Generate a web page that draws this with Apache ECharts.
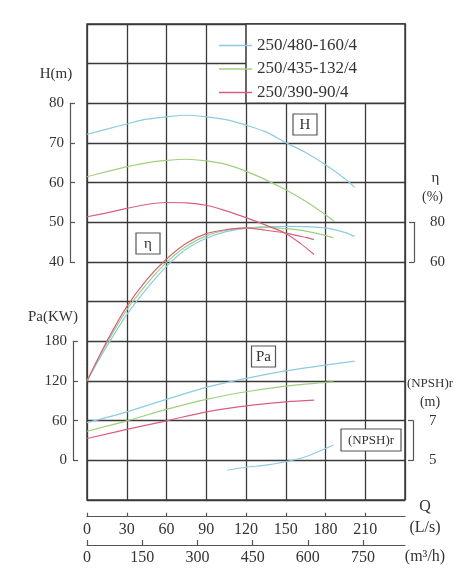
<!DOCTYPE html>
<html><head><meta charset="utf-8">
<script src="https://cdn.jsdelivr.net/npm/echarts@6/dist/echarts.min.js"></script>
<style>html,body{margin:0;padding:0;background:#fff}#c{width:471px;height:580px}</style>
</head><body><div id="c"></div>
<script>
const modelNames = ['250/480-160/4', '250/435-132/4', '250/390-90/4'];
const colors = ['#8ccbe2', '#9fd07e', '#d8607c'];

// H (m)
const qH1 = [0, 15, 30, 45, 60, 75, 90, 105, 120, 135, 150, 165, 180, 195, 202];
const h1  = [72.2, 73.5, 74.8, 76.0, 76.6, 77.0, 76.6, 75.9, 74.5, 72.8, 70.1, 67.6, 64.5, 60.9, 58.8];
const qH2 = [0, 15, 30, 45, 60, 75, 90, 105, 120, 135, 150, 165, 180, 186.6];
const h2  = [61.5, 62.8, 64.0, 65.0, 65.6, 65.9, 65.5, 64.6, 62.9, 60.7, 58.2, 55.3, 51.9, 50.2];
const qH3 = [0, 15, 30, 45, 60, 75, 90, 105, 120, 135, 150, 161, 171.3];
const h3  = [51.4, 52.4, 53.5, 54.5, 55.0, 54.9, 54.3, 52.9, 51.2, 49.3, 47.2, 44.7, 41.9];

// efficiency (%)
const qE1 = [0, 15, 30, 45, 60, 75, 90, 105, 120, 135, 150, 165, 180, 195, 202];
const e1  = [0, 17.5, 33.5, 46.5, 57.8, 66.5, 72, 75.3, 77, 77.7, 78, 77.8, 77.2, 74.8, 72.9];
const qE2 = [0, 15, 30, 45, 60, 75, 90, 105, 120, 135, 150, 165, 180, 186];
const e2  = [0, 19, 35.8, 48.8, 59.8, 68, 73.2, 76, 77.2, 77.5, 76.8, 75.6, 73.4, 72.1];
const qE3 = [0, 15, 30, 45, 60, 75, 90, 105, 120, 135, 150, 165, 171.3];
const e3  = [0, 20, 37.5, 51, 61.5, 69.5, 74.3, 76.3, 77.2, 76, 74.6, 72.4, 71.3];

// shaft power Pa (kW)
const qP1 = [0, 30, 60, 90, 120, 150, 180, 202];
const p1  = [57, 73.4, 92.2, 110.3, 123.9, 135.4, 144, 150];
const qP2 = [0, 30, 60, 90, 120, 150, 180, 186];
const p2  = [44, 59.8, 77, 92.2, 103.7, 112.3, 117.9, 118.8];
const qP3 = [0, 30, 60, 90, 120, 150, 171.5];
const p3  = [33, 46.8, 59.8, 73.4, 82.5, 88.5, 91];

// NPSHr (m), only first model
const qN1 = [106, 120, 135, 150, 165, 186];
const n1  = [4.5, 4.65, 4.76, 4.93, 5.18, 5.77];

// tick labels
const hTicks = [40, 50, 60, 70, 80];
const paTicks = [0, 60, 120, 180];
const etaTicks = [60, 80];
const npshTicks = [5, 7];
const qTicks = [0, 30, 60, 90, 120, 150, 180, 210];
const m3Ticks = [0, 150, 300, 450, 600, 750];

const zip = (a, b) => a.map((q, i) => [q, b[i]]);
const FONT = 'Liberation Serif';
const LINE = '#3a3a3a';
const TXT = '#333';

const series = [];
const sets = [
  [qH1, h1, qE1, e1, qP1, p1],
  [qH2, h2, qE2, e2, qP2, p2],
  [qH3, h3, qE3, e3, qP3, p3]
];
sets.forEach((s, i) => {
  const base = { type: 'line', name: modelNames[i], xAxisIndex: 0, symbol: 'none', smooth: 0.3,
    lineStyle: { width: 1.2, color: colors[i] }, itemStyle: { color: colors[i] }, z: 5 };
  series.push(Object.assign({}, base, { yAxisIndex: 0, data: zip(s[0], s[1]) }));
  series.push(Object.assign({}, base, { yAxisIndex: 1, data: zip(s[2], s[3]) }));
  series.push(Object.assign({}, base, { yAxisIndex: 2, data: zip(s[4], s[5]) }));
});
series.push({ type: 'line', name: modelNames[0], xAxisIndex: 0, yAxisIndex: 3, symbol: 'none', smooth: 0.3,
  lineStyle: { width: 1.2, color: colors[0] }, itemStyle: { color: colors[0] }, z: 5, data: zip(qN1, n1) });

const ROW = 476 / 12;
const bracketY = (gi, pos, min, max, interval, ticks, labelPad) => ({
  gridIndex: gi, type: 'value', position: pos, min: min, max: max, interval: interval,
  axisLine: { show: true, lineStyle: { color: '#555', width: 1.2 } },
  axisTick: { show: true, inside: true, length: 5, customValues: ticks, lineStyle: { color: '#555', width: 1.2 } },
  axisLabel: { show: true, margin: 6, customValues: ticks, fontFamily: FONT, fontSize: 15, color: TXT, padding: labelPad || 0 },
  splitLine: { show: false }
});
const hiddenX = gi => ({ gridIndex: gi, type: 'value', show: false, min: 0, max: 1 });
const hiddenY = gi => ({ gridIndex: gi, type: 'value', show: false, min: 0, max: 1 });

const option = {
  animation: false,
  backgroundColor: '#fff',
  grid: [
    { left: 87, top: 24, width: 318, height: 476, show: true, borderColor: LINE, borderWidth: 1.5 },
    { left: 70, top: 24 + 2 * ROW, width: 10, height: 4 * ROW },
    { left: 73, top: 24 + 8 * ROW, width: 10, height: 3 * ROW },
    { left: 414, top: 24 + 5 * ROW, width: 10, height: ROW },
    { left: 413, top: 24 + 10 * ROW, width: 10, height: ROW },
    { left: 87, top: 506, width: 318, height: 10.7 },
    { left: 87, top: 535, width: 318, height: 10 }
  ],
  xAxis: [
    { gridIndex: 0, type: 'value', min: 0, max: 240, interval: 30,
      axisLine: { show: false }, axisTick: { show: false }, axisLabel: { show: false },
      splitLine: { show: true, lineStyle: { color: LINE, width: 1.3 } } },
    hiddenX(1), hiddenX(2), hiddenX(3), hiddenX(4),
    { gridIndex: 5, type: 'value', position: 'bottom', min: 0, max: 240,
      axisLine: { show: true, lineStyle: { color: '#555', width: 1.2 } },
      axisTick: { show: true, inside: true, length: 4, customValues: qTicks, lineStyle: { color: '#555', width: 1.2 } },
      axisLabel: { show: true, margin: 5, customValues: qTicks, fontFamily: FONT, fontSize: 16, color: TXT },
      splitLine: { show: false } },
    { gridIndex: 6, type: 'value', position: 'bottom', min: 0, max: 864,
      axisLine: { show: true, lineStyle: { color: '#555', width: 1.2 } },
      axisTick: { show: true, inside: true, length: 5, customValues: m3Ticks, lineStyle: { color: '#555', width: 1.2 } },
      axisLabel: { show: true, margin: 5, customValues: m3Ticks, fontFamily: FONT, fontSize: 16, color: TXT },
      splitLine: { show: false } }
  ],
  yAxis: [
    { gridIndex: 0, type: 'value', min: -20, max: 100, interval: 10,
      axisLine: { show: false }, axisTick: { show: false }, axisLabel: { show: false },
      splitLine: { show: true, lineStyle: { color: LINE, width: 1.3 } } },
    { gridIndex: 0, type: 'value', show: false, min: -60, max: 180 },
    { gridIndex: 0, type: 'value', show: false, min: -60, max: 660 },
    { gridIndex: 0, type: 'value', show: false, min: 3, max: 27 },
    bracketY(1, 'left', 40, 80, 10, hTicks),
    bracketY(2, 'left', 0, 180, 60, paTicks),
    bracketY(3, 'right', 60, 80, 20, etaTicks, [0, 0, 7, 0]),
    bracketY(4, 'right', 5, 7, 2, npshTicks),
    hiddenY(5), hiddenY(6)
  ],
  legend: {
    data: modelNames, orient: 'vertical', left: 214, top: 32, itemWidth: 33, itemHeight: 1.5,
    icon: 'rect', itemGap: 6.5, z: 60, selectedMode: false,
    textStyle: { fontFamily: FONT, fontSize: 17, color: TXT }
  },
  graphic: [],
  series: series
};

const txt = (t, x, y, size) => ({ type: 'text', x: x, y: y, z: 70,
  style: { text: t, font: size + 'px "' + FONT + '"', fill: TXT, align: 'center', verticalAlign: 'middle' } });
const box = (t, x, y, w, h, size) => ({ type: 'group', z: 70, children: [
  { type: 'rect', shape: { x: x, y: y, width: w, height: h }, style: { fill: '#fff', stroke: '#555', lineWidth: 1.2 }, z: 70 },
  { type: 'text', x: x + w / 2, y: y + h / 2 + 0.5, z: 71,
    style: { text: t, font: size + 'px "' + FONT + '"', fill: TXT, align: 'center', verticalAlign: 'middle' } }
] });

option.graphic = [
  { type: 'rect', z: 50, shape: { x: 87 + 318 * 4 / 8, y: 24, width: 318 * 4 / 8, height: 2 * ROW },
    style: { fill: '#fff', stroke: LINE, lineWidth: 1.5 } },
  box('H', 293, 114, 24, 21, 15),
  box('η', 136, 233, 24, 21, 15),
  box('Pa', 251.5, 346, 24, 21, 15),
  box('(NPSH)r', 341, 429, 60, 22, 13),
  txt('H(m)', 56, 74, 15),
  txt('Pa(KW)', 53, 317, 15),
  txt('η', 435.5, 178, 15),
  txt('(%)', 432.5, 197, 14),
  txt('(NPSH)r', 430, 384, 13),
  txt('(m)', 430, 402, 14),
  txt('Q', 425, 507, 16),
  txt('(L/s)', 425, 527.5, 16),
  txt('(m³/h)', 425, 556.5, 16)
];

const chart = echarts.init(document.getElementById('c'), null, { renderer: 'canvas' });
chart.setOption(option);
</script>
</body></html>
